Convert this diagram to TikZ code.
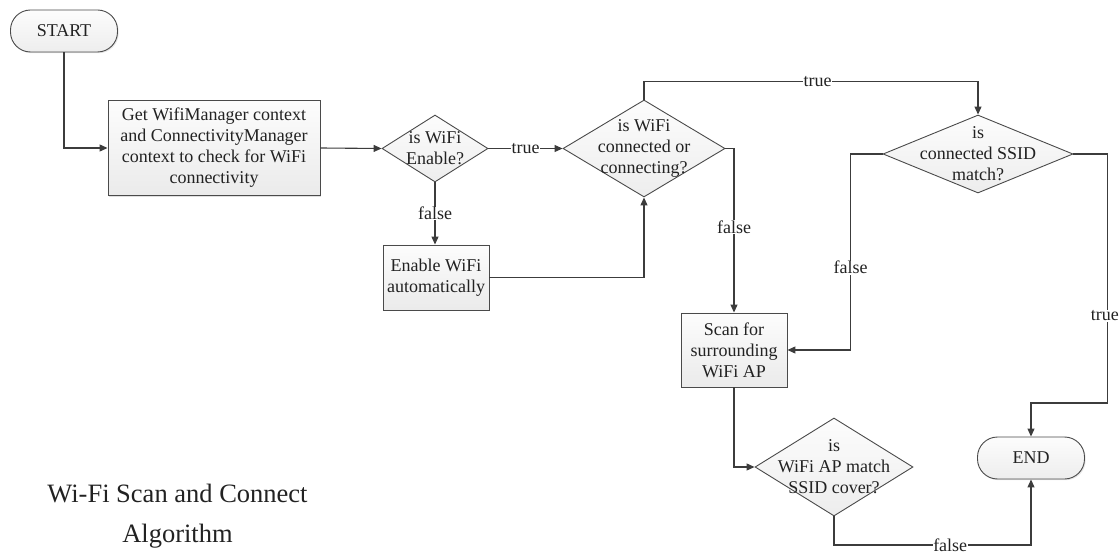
\documentclass[tikz,border=0pt]{standalone}
\usepackage{fontspec}
\setmainfont{Liberation Serif}
\usetikzlibrary{arrows.meta,shapes.geometric,shadows}

\definecolor{linegray}{HTML}{3C3C3C}
\definecolor{bordergray}{HTML}{4A4A4A}
\definecolor{inkgray}{HTML}{222222}

\tikzset{
  every node/.style={text=inkgray},
  bodyfont/.style={font=\fontsize{18}{21}\selectfont},
  flow/.style={draw=linegray, line width=1.1pt, -{Triangle[length=8pt,width=7pt]}},
  lbl/.style={bodyfont, fill=white, inner sep=0.5pt},
  procbox/.style={rectangle, draw=bordergray, line width=0.9pt,
    top color=gray!2, bottom color=gray!16, inner sep=0pt, align=center, bodyfont,
    drop shadow={shadow xshift=1.2pt, shadow yshift=-1.2pt, opacity=0.25, fill=gray}},
  terminal/.style={rectangle, rounded corners=20pt, draw=bordergray, line width=0.9pt,
    top color=gray!2, bottom color=gray!14, inner sep=0pt, bodyfont,
    minimum width=107pt, minimum height=42pt,
    drop shadow={shadow xshift=1.2pt, shadow yshift=-1.2pt, opacity=0.2, fill=gray}},
  decision/.style={diamond, draw=bordergray, line width=0.9pt,
    top color=gray!2, bottom color=gray!14, inner sep=0pt, aspect=1},
  dtext/.style={bodyfont, align=center, inner sep=0pt}
}

\begin{document}
\begin{tikzpicture}[x=1pt, y=-1pt]
\useasboundingbox (0,0) rectangle (1119,553);

% terminals
\node[terminal] (start) at (64,31) {START};
\node[terminal] (end) at (1031,458) {END};

% process boxes
\node[procbox, minimum width=212pt, minimum height=95pt] (get) at (214,148)
  {Get WifiManager context\\and ConnectivityManager\\context to check for WiFi\\connectivity};
\node[procbox, minimum width=106pt, minimum height=65pt] (enable) at (436,277.5)
  {Enable WiFi\\automatically};
\node[procbox, minimum width=106pt, minimum height=74pt] (scan) at (734,350)
  {Scan for\\surrounding\\WiFi AP};

% decisions
\node[decision, minimum width=106pt, minimum height=67pt] (d1) at (435,148.5) {};
\node[dtext] (d1t) at (d1) {is WiFi\\Enable?};
\node[decision, minimum width=162pt, minimum height=97pt] (d2) at (644,148.5) {};
\node[dtext] (d2t) at (d2) {is WiFi\\connected or\\connecting?};
\node[decision, minimum width=190pt, minimum height=78pt] (d3) at (978,154) {};
\node[dtext] (d3t) at (d3) {is\\connected SSID\\match?};
\node[decision, minimum width=158pt, minimum height=98pt] (d4) at (834,467) {};
\node[dtext] (d4t) at (d4) {is\\WiFi AP match\\SSID cover?};

% title
\node[font=\fontsize{26.5}{40}\selectfont, anchor=base] (title1) at (177.5,502) {Wi-Fi Scan and Connect};
\node[font=\fontsize{26.5}{40}\selectfont, anchor=base] (title2) at (177.5,542) {Algorithm};

% connectors
\draw[flow] (start.south) |- (get.west);
\draw[flow] (get.east) -- (d1.west);
\draw[flow] (d1.east) -- node[lbl] {true} (d2.west);
\draw[flow] (d1.south) -- node[lbl] {false} (d1.south |- enable.north);
\draw[flow] (enable.east) -| (d2.south);
\draw[flow] (d2.north) -- ++(0,-18) -| node[lbl, pos=0.26] {true} (d3.north);
\draw[flow] (d2.east) -| node[lbl, pos=0.74] {false} (scan.north);
\draw[flow] (d3.west) -- ++(-32,0) |- node[lbl, pos=0.29] {false} (scan.east);
\draw[flow] (d3.east) -- ++(34,0) -- node[lbl, pos=0.65, xshift=-2.5pt] {true} ++(0,249) -| (end.north);
\draw[flow] (scan.south) |- (d4.west);
\draw[flow] (d4.south) -- ++(0,28.5) -| node[lbl, pos=0.295] {false} (end.south);
\end{tikzpicture}
\end{document}
